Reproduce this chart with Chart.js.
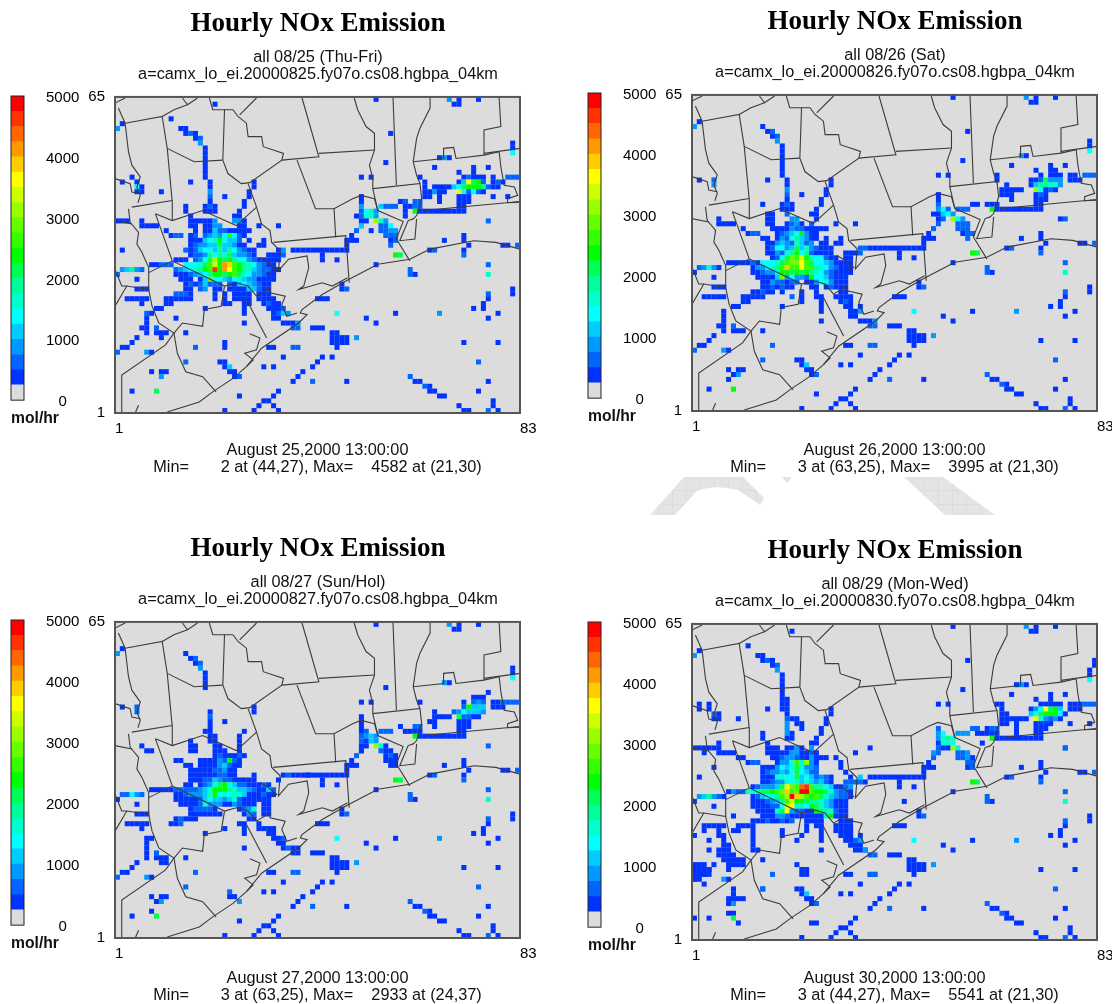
<!DOCTYPE html>
<html><head><meta charset="utf-8">
<script src="https://cdn.jsdelivr.net/npm/chart.js@4"></script>
<style>
html,body{margin:0;padding:0;background:#fff;width:1112px;height:1004px;overflow:hidden}
canvas{position:absolute}
svg{position:absolute;left:0;top:0}
</style></head><body>
<svg width="1112" height="1004"><defs><pattern id="h" width="14" height="14" patternUnits="userSpaceOnUse"><rect width="14" height="14" fill="#e4e4e4"/><path d="M0 0H14M0 0V14" stroke="#d4d4d4" stroke-width="1"/></pattern></defs>
<path fill="url(#h)" d="M650 515L684 477H743L764 498L760 505L738 490Q715 484 697 491L675 515Z"/>
<path fill="url(#h)" d="M782 477H792L787 483Z"/>
<path fill="url(#h)" d="M904 477H943L995 515H945Z"/></svg>
<script>
const colorLevels=['#dcdcdc','#0033ff','#0066ff','#0099ff','#00ccff','#00ffff','#00ffcc','#00ff99','#00ff55','#00ff00','#33ff00','#66ff00','#99ff00','#ccff00','#ffff00','#ffcc00','#ff9900','#ff6600','#ff3300','#ff0000'];
const colorbarStep=250;
const xTickLabels=['1','83'];
const yTickLabels=['1','65'];
const headings=['Hourly NOx Emission','Hourly NOx Emission','Hourly NOx Emission','Hourly NOx Emission'];
const subLines=[['all 08/25 (Thu-Fri)','a=camx_lo_ei.20000825.fy07o.cs08.hgbpa_04km'],['all 08/26 (Sat)','a=camx_lo_ei.20000826.fy07o.cs08.hgbpa_04km'],['all 08/27 (Sun/Hol)','a=camx_lo_ei.20000827.fy07o.cs08.hgbpa_04km'],['all 08/29 (Mon-Wed)','a=camx_lo_ei.20000830.fy07o.cs08.hgbpa_04km']];
const footLines=[['August 25,2000 13:00:00','Min=       2 at (44,27), Max=    4582 at (21,30)'],['August 26,2000 13:00:00','Min=       3 at (63,25), Max=    3995 at (21,30)'],['August 27,2000 13:00:00','Min=       3 at (63,25), Max=    2933 at (24,37)'],['August 30,2000 13:00:00','Min=       3 at (44,27), Max=    5541 at (21,30)']];

// Cells are "row col:levels col:levels", levels in base 36 (index into colorLevels)
const sharedCells=["65 54:1 69:3 71:1 75:1","64 70:11","60 2:1","59 1:3","57 17:12","56 18:3 82:1","55 19:1 82:1","54 19:1 82:5","53 19:1 69:1","52 19:1 56:1",
"40 77:2","38 50:2","39 51:2","37 49:1","36 48:111 68:1 72:1","37 72:1","35 48:1 73:1 80:11 83:2","34 37:111111111111 65:12 72:1","33 43:1 72:2 58:9 59:8","32 43:1 46:1","31 54:1 77:2","30 61:2","29 61:2 62:1 77:6","27 47:1","26 47:12 82:1","25 82:1 77:2","24 77:1 42:111","23 76:1","22 76:1 74:1","21 46:5 58:1 67:3 79:1","20 52:1 77:1","19 54:1","18 41:111","17 45:11","16 45:1111 50:3","15 45:1111 72:1 79:1","14 46:1 32:11 37:22","12 35:1 43:1 45:1","11 42:1 75:2","10 31:1 33:1 41:1","9 39:1","8 38:1 61:2","7 37:1 41:2 48:1 62:11 77:1","6 64:21","5 65:11 75:1 34:1 4:1","4 67:11 33:1 26:1","3 31:11 78:1","2 30:1 33:1 71:1 78:1","1 23:1 29:1 34:1 72:11 77:2 79:1",
"16 5:1","15 4:1","14 2:11 17:2","13 1:2 7:3 8:1","11 15:2"];

const cells0825=["64 21:1","61 12:1","59 14:11","58 15:1 16:2 17:1 57:1","53 67:1 68:3","51 19:1 66:1 74:1 77:1","50 19:1 71:1 74:1","49 4:1 19:1 51:1 53:1 63:1 72:1 73:2 74:1 75:1 76:1 78:1 81:222","48 2:1 5:1 16:1 20:1 29:1 64:1 71:1 72:4 73:e 74:8 75:9 76:2 78:1 79:2 80:1","47 5:5 6:1 20:1 29:1 64:1 66:1111 70:4 71:5 72:8 73:9 74:9 75:9 76:7 77:2 78:1 79:1","46 5:11 10:1 20:3 28:1 64:1 65:1 66:3 67:11 71:e 72:5 73:2 74:5 75:2 76:1","45 20:2 23:1 28:1 51:1 64:11 67:1 71:111 78:1 81:1","44 20:1 27:1 51:1 59:11 60:2 62:22 67:1 71:111","43 15:1 19:1 20:2 21:1 27:1 51:3 55:4 56:22 58:2 60:1 61:1 62:22 71:11","42 15:1 19:111 26:1 51:2 52:5 53:6 54:3 60:1 62:9 63:1 64:11111111 72:1","41 16:1 26:1 25:1 50:1 51:2 52:6 53:6 54:3 60:1","40 1:111 6:1 16:111 19:11 21:3 25:33 27:1 51:1 52:1 54:c 55:6 56:3","39 6:1111 16:11 19:11 21:33 26:11 30:1 34:1 51:4 55:2 56:2 57:5","38 11:1 17:1 19:11 21:4 22:2 23:2 24:1 25:11 27:11 53:1 55:2 56:2 57:3 58:3","37 12:122 16:12 19:2 20:3 21:4 22:3 23:5 24:a 25:5 26:2 27:1 56:2 57:2 58:2","36 16:111 19:4 20:5 21:6 22:9 23:5 24:4 25:4 26:2 28:1 31:1 57:1 58:2","35 16:1 17:2 18:3 19:3 20:4 21:4 22:8 23:4 24:4 25:3 26:1 27:1 30:11 57:2","34 2:1 15:2 16:1 17:2 18:4 19:5 20:5 21:4 22:7 23:4 24:7 25:5 26:3 27:2 28:11 34:1 35:3","33 16:1 17:2 18:2 19:3 20:7 21:5 22:7 23:6 24:8 25:4 26:3 27:3 28:2 29:1 32:1112","32 13:111 17:2 18:3 19:5 20:8 21:c 22:9 23:8 24:9 25:7 26:5 27:5 28:3 29:2 30:1 31:1 32:111","31 8:11222 15:5 16:5 17:5 18:6 19:8 20:a 21:d 22:9 23:g 24:f 25:a 26:9 27:7 28:6 29:5 30:3 31:2 32:11","30 2:3 3:4 4:7 5:3 6:2 13:2 14:3 15:4 16:5 17:6 18:7 19:9 20:a 21:i 22:9 23:g 24:e 25:a 26:9 27:7 28:6 29:4 30:3 31:2 32:2 33:1 34:1","29 1:2 13:111 16:2 17:3 18:4 19:5 20:7 21:9 22:9 23:8 24:9 25:a 26:8 27:6 28:5 29:3 30:3 31:2 32:11","28 5:1 14:111 18:1 19:4 20:b 21:5 22:5 23:4 24:3 25:5 26:6 27:4 28:3 29:3 30:1 31:1 32:11","27 15:1 16:2 17:1 18:2 19:4 20:2 21:2 22:2 24:2 25:1 26:4 27:5 28:4 29:3 30:2 31:1 32:1","26 5:111 15:1 16:1 18:2 19:3 21:1 22:1 24:1 25:1 26:1 27:1 28:4 29:4 30:2 31:1 32:1","25 13:2 14:2 15:2 16:1 21:1 23:1 25:1111 30:111","24 3:11111 11:111111 21:1 23:1 25:1111 30:1 31:1 32:1 33:1","23 6:1 11:11 23:11 27:11 31:1 32:2 33:1 34:1","22 9:11 19:1 27:1 32:111 34:1 35:2","21 7:2 8:1 27:1 33:1 34:2 35:4 36:3","20 7:1 13:1 33:11","19 7:1 27:1 35:111 38:3","18 6:11 9:2 37:22","17 7:1 9:111 15:1","16 10:1","15 23:1","14 23:1","11 22:11","10 23:1 24:4","9 8:1 10:11 24:11","8 10:3 25:1 26:2","5 9:8"];
const cells0826=["59 15:1","58 16:12 57:1","53 68:3","51 19:1 66:1 74:1 77:1","50 19:1 71:1 74:11","49 19:1 51:1 53:1 63:1 72:1 74:111 78:11 81:222","48 2:1 5:2 16:1 20:1 29:1 63:1 70:11 72:2 73:8 74:3 75:3 76:3 78:111","47 5:3 20:1 29:1 65:1 70:1 71:4 72:7 73:7 74:6 75:6 76:3","46 20:3 28:1 64:11111 71:c 72:5 73:1 74:2 75:1","45 20:2 23:1 28:1 51:1 64:111 71:1 72:2 73:1","44 20:1 27:1 51:1 66:1 71:111","43 15:1 19:1 20:2 21:1 27:1 51:2 58:11 61:111 71:11","42 19:111 26:1 51:3 52:5 53:2 55:222 62:9 63:1 64:11111111 72:1","41 16:11 20:2 25:11 50:1 51:1 52:4 53:5 54:3","40 6:1 16:11 21:3 22:3 26:1 51:1 52:2 54:c 55:5 56:3 76:1","39 6:1111 16:11 20:1 21:2 22:3 23:1 25:2 30:1 34:1 55:2 56:2 57:2","38 11:1 17:1111 21:3 22:2 23:2 24:1 25:1 26:111 55:2 56:2 57:2","37 12:122 18:1 19:2 20:3 21:4 22:5 23:9 24:3 25:1 26:1 56:1 57:2 58:2","36 15:11 18:1 19:3 20:2 21:5 22:7 23:4 24:3 25:1 26:1 28:1 31:1 57:2","35 16:1 17:1 18:3 19:4 20:3 21:2 22:6 23:4 24:2 25:3 27:11 30:11","34 16:1 17:2 18:5 19:5 20:3 21:4 22:8 23:4 24:6 25:3 26:2 27:11 29:1 35:2 36:2","33 16:1 17:1 18:3 19:2 20:6 21:7 22:9 23:5 24:7 25:2 26:111 29:1 32:1112","32 17:1 18:2 19:5 20:8 21:b 22:a 23:d 24:9 25:6 26:5 27:5 28:2 29:1 30:1 32:11","31 8:11111 13:2 14:1 15:5 16:5 17:5 18:6 19:8 20:a 21:b 22:b 23:e 24:a 25:8 26:5 27:5 28:4 29:3 30:1 31:1 32:11","30 2:2 3:3 4:6 5:3 6:1 13:1 14:3 15:3 16:5 17:6 18:7 19:a 20:f 21:a 22:a 23:e 24:a 25:a 26:7 27:6 28:5 29:3 30:2 31:1 32:11","29 1:1 13:11 15:2 16:3 17:3 18:6 19:9 20:9 21:8 22:9 23:8 24:9 25:7 26:6 27:5 28:3 29:2 30:1 31:1 32:11","28 5:1 14:1111 18:4 19:b 20:3 21:5 22:3 23:3 24:2 25:9 26:5 27:5 28:4 29:2 30:1 31:1 32:1","27 15:11 17:3 18:2 19:2 20:1 21:2 22:2 24:1 25:1 26:3 27:5 28:6 29:3 30:1 31:1 32:1","26 5:111 15:11 17:2 18:1 19:2 20:1 21:1 25:1 26:1 28:1 29:2 30:111","25 13:11 15:2 16:11 19:1 23:1 26:1 31:11","24 3:11111 11:11111 21:2 23:1 26:11 30:1 31:1 32:1 33:1","23 11:11 23:1 27:1 31:1 32:2 33:1","22 9:11 19:1 27:1 32:11 35:1","21 7:1 27:1 33:11 35:3","20 7:1 33:11","19 7:1 27:1 35:111 38:3","18 6:11 9:2 37:22","17 7:1 9:111 15:1","11 22:11","10 23:1 24:4","9 8:1 10:11 24:11","8 9:1 10:3 25:1 26:2","7 8:1","5 9:9"];
const cells0827=["59 15:1","58 16:12","53 68:3","51 77:1","50 74:111","49 51:1 53:1 63:1 72:1 74:2 75:3 76:2 78:11 80:22 82:22","48 2:1 5:2 29:1 72:2 73:9 74:4 75:4 76:4 78:111","47 5:2 20:1 29:1 66:1 70:2 71:3 72:5 73:4 74:4 75:4 76:3","46 20:2 51:1 66:1111 71:8 72:2 73:2 74:11","45 20:1 23:1 51:1 65:11 71:111","44 20:1 51:1 59:1 62:22 66:1 71:111","43 19:11 27:1 51:1 52:2 55:222 60:1 61:111 71:11","42 20:11 26:1 51:2 52:3 53:4 54:3 62:9 63:1 64:11111111 72:1","41 16:1 20:11 26:1 51:2 52:1 53:4 54:3","40 6:1 16:11 21:11 26:1 51:1 52:1 54:c 55:6 56:1","39 7:11 16:11 21:111 26:1 51:1 55:2 56:1 57:1","38 21:1 22:2 23:1 24:1 25:1 26:2 27:1 56:1 57:2 58:1","37 13:11 18:111 21:1 22:3 23:2 24:9 25:2 26:1 56:1 57:1 58:1","36 15:11 18:1111 22:3 23:4 24:2 25:1 26:1 57:1 58:1","35 16:11 18:111 21:2 22:2 23:3 24:1 25:1","34 16:111 19:11 21:1 22:2 23:2 24:1 25:1 29:1 35:1 36:2 40:1","33 16:111 19:2 20:2 21:4 22:3 23:2 24:2 25:1 26:1 27:11 29:1 34:1","32 15:11 18:1 19:2 20:3 21:6 22:8 23:9 24:6 25:4 26:2 27:2 28:1 29:1 30:1 31:2 32:1","31 8:11111 13:2 14:2 15:2 16:2 17:2 18:3 19:4 20:6 21:9 22:9 23:9 24:7 25:6 26:4 27:4 28:3 29:2 30:1 31:1 32:4 33:2","30 2:2 3:2 4:5 5:3 6:2 13:11 15:2 16:3 17:3 18:3 19:4 20:6 21:9 22:5 23:6 24:5 25:6 26:6 27:4 28:1 29:1 30:1 31:2 32:1 33:1","29 1:1 13:11111 18:2 19:4 20:5 21:4 22:4 23:3 24:4 25:6 26:2 27:1 28:111 31:11","28 5:1 14:1111 18:2 19:6 20:3 21:3 22:3 23:1 24:1 25:3 26:2 27:1 28:11 31:11","27 16:1 17:2 18:2 19:2 20:2 21:1 26:1 27:2 28:3 29:6 31:11","26 5:111 16:1111 20:1 21:1 22:1 27:1 28:3 29:2 31:11","25 13:1 14:2 15:111 28:11","24 3:11111 12:1 13:1 14:2 26:11 30:1","23 6:1 23:1 27:1 30:1111","22 19:1 27:1 32:11","21 7:11 33:1 34:1 35:2","20 7:1 34:11","19 7:1 27:1 35:1 36:2 37:11","18 7:1 9:2 37:11","17 7:1 9:111 15:1","16 10:11","10 24:2","9 8:1 10:1 11:1 24:11","8 9:1 10:3 26:3","6 8:1","5 9:8"];
const cells0830=["64 21:1","61 12:1","59 14:11","58 15:1 16:2 17:1 57:1 83:1","57 83:1","53 67:1 68:3","51 19:1 66:1 74:1 77:1","50 19:11 71:1 74:1","49 2:1 4:1 19:11 51:1 53:1 63:11 72:11111 78:111 81:222","48 2:1 4:1 16:1 19:11 29:1 64:1 70:1 71:3 72:5 73:e 74:8 75:9 76:4 78:111","47 5:2 6:1 20:1 29:1 64:1 65:1 70:4 71:5 72:8 73:9 74:9 75:9 76:5 77:1","46 5:11 10:1 20:2 21:11 28:1 64:111111 71:e 72:6 73:3 74:2 75:3 76:1","45 20:3 22:11 28:1 64:11 67:1 71:1111 78:1 82:1","44 20:3 23:1 27:1 51:2 58:22 61:1 62:22 67:1 71:111","43 15:1 20:3 21:1 27:1 51:3 52:5 55:3 56:33 59:11 61:111 67:1 71:11","42 15:1 20:11 26:1 51:3 52:6 53:7 54:6 62:9 63:1 64:11111111 72:1","41 6:1 16:1 25:11 51:1 52:6 53:6 54:5 60:1","40 1:11111 6:1 16:111 20:11 22:3 23:1 25:3 37:1 51:2 52:11 54:c 55:6 77:2","39 3:1 6:1111 16:1111 20:1 21:3 22:3 23:1 24:1 25:2 26:1 34:1 50:3 55:2 56:2 57:3","38 10:11 17:1 18:1 19:2 20:3 21:3 22:2 23:1 24:1 25:3 26:111 30:1 55:2 56:2 57:3 58:1","37 12:122 18:1 19:3 20:3 21:5 22:a 23:6 24:c 25:3 26:1 31:1 57:2 58:2","36 5:1 15:11 17:1 18:3 19:5 20:4 21:6 22:8 23:6 24:3 25:3 26:2 31:1 57:1 58:2","35 15:1 16:2 17:3 18:3 19:4 20:3 21:5 22:8 23:5 24:4 25:2 26:2 32:1","34 2:1 15:111 18:6 19:6 20:5 21:5 22:8 23:4 24:5 25:4 26:2 27:3 28:2 29:1 33:1 35:4","33 15:11 17:2 18:3 19:3 20:6 21:5 22:6 23:4 24:6 25:4 26:3 27:4 28:2 29:1 32:2 33:2 34:2 35:2 36:1","32 13:1 14:2 15:3 16:3 17:3 18:4 19:8 20:e 21:b 22:a 23:h 24:i 25:a 26:7 27:7 28:5 29:4 30:1 31:1 32:2 33:3","31 8:1 9:3 10:2 11:2 12:6 13:6 14:7 15:8 16:8 17:9 18:a 19:b 20:f 21:a 22:b 23:j 24:j 25:a 26:9 27:9 28:8 29:6 30:3 31:2 32:2 33:1","30 2:3 3:4 4:7 5:3 6:2 7:1 13:1 14:2 15:4 16:5 17:6 18:7 19:a 20:c 21:j 22:f 23:c 24:a 25:9 26:a 27:8 28:6 29:4 30:3 31:2 32:2 33:1","29 1:1 13:111 16:2 17:3 18:4 19:7 20:a 21:d 22:9 23:9 24:8 25:7 26:7 27:6 28:4 29:3 30:111 44:1","28 5:1 13:1111 17:2 18:2 19:5 20:d 21:e 22:6 23:6 24:5 25:9 26:8 27:6 28:4 29:3 30:1 31:11","27 14:111 17:1 18:6 19:8 20:e 21:3 22:2 23:2 24:1 25:1 26:9 27:8 28:7 29:6 30:2 31:11","26 9:1 15:111 18:3 19:3 20:2 21:1 22:1 23:11 25:11 27:1 28:6 29:9 30:1 31:11","25 13:111 16:2 17:1 18:1 19:2 20:1 21:2 24:1111 31:111","24 3:11111 10:111 13:1 24:1 26:11 30:1111","23 3:1 6:1 9:11 13:1 19:1 24:1 27:1 30:1111 33:1","22 1:1 6:11 13:1 19:1 23:1 27:1 31:111 33:1 35:1","21 4:1 7:1 13:1 22:1 27:1 32:11 34:2 35:3","20 7:11 13:1 33:11 35:1","19 4:1 6:111 13:1 14:1 27:1 34:1 35:11 36:3","18 6:1111 37:22","17 7:11 9:111 15:1","16 1:111 8:1111 22:1","15 1:1111 8:1 23:11","14 1:1111 23:11 37:22","13 1:11","12 3:1","11 9:1 15:2 22:11","10 9:1 23:1 24:4","9 8:1 9:1 10:11 24:11","8 8:11 9:3 25:1 26:2","6 8:11","4 10:1 25:1","5 1:1 9:8"];
const panelCells=[cells0825,cells0826,cells0827,cells0830];

// County lines and coast, in map units (1 cell = 14.48 units, origin at the lower left of the domain)
const mapLines=[
[[10,923],[40,938]],
[[20,908],[40,863],[50,778],[60,738],[85,703],[75,673],[85,648],[78,626]],
[[40,863],[150,883],[165,788],[180,628],[180,573]],
[[150,883],[185,903],[225,918],[210,938]],[[225,918],[255,938]],
[[165,788],[245,748],[330,753]],
[[330,753],[335,903],[360,903],[375,883],[400,863],[405,823],[445,823],[450,793],[510,773],[505,753],[410,686],[385,683],[345,713],[330,753]],
[[335,903],[300,903],[290,938]],[[380,888],[430,938]],
[[505,753],[615,763],[565,938]],
[[615,773],[780,783]],
[[720,938],[730,903],[755,853],[780,833],[780,783],[765,738],[775,698],[775,668]],
[[550,753],[605,608],[660,608],[715,638],[740,648],[780,638],[790,603],[865,570],[845,518],[885,453]],
[[775,668],[915,683],[905,708],[895,748],[905,818],[915,848],[945,908],[945,938]],
[[835,938],[845,678]],
[[895,748],[985,758],[985,788],[1015,791],[1022,758],[1105,768],[1150,778],[1155,733],[1165,678],[1195,673],[1205,648],[1175,638],[1175,626],[1212,628]],
[[1105,768],[1105,843],[1155,853],[1150,938]],[[1105,773],[1212,788]],
[[925,603],[1212,630]],
[[775,668],[790,603]],
[[915,683],[920,638],[905,588],[895,578],[880,573],[855,513],[900,518],[905,578]],
[[660,608],[665,523]],
[[480,508],[695,528],[705,388]],
[[130,593],[180,453],[335,378],[370,388],[405,378],[430,348],[470,373],[470,358],[515,348],[505,323],[520,288],[550,298]],
[[130,593],[180,573],[270,603],[370,558],[430,613],[405,683]],
[[430,613],[445,563],[470,543],[475,508],[500,483],[495,423],[525,458],[580,468],[585,433],[570,378],[555,368],[625,388],[655,378],[700,403]],
[[165,3],[260,33],[300,63],[360,103],[400,138],[445,193],[555,268],[580,293],[560,298],[565,308],[625,353],[695,393],[790,443],[885,458],[945,488],[1075,513],[1140,508],[1212,488]],
[[10,318],[45,378],[110,368],[120,318],[140,268],[185,238],[160,203],[30,113],[30,0]],
[[60,613],[180,633]],[[50,608],[55,568],[80,538],[75,503],[90,478],[110,433],[110,368]],[[10,573],[60,563]],
[[110,418],[180,453]],[[10,428],[30,378],[45,378]],
[[185,238],[210,268],[270,258],[275,308],[325,318],[335,378]],
[[185,238],[195,178],[220,123],[270,108],[310,63]],
[[400,338],[460,223]],
[[410,236],[440,223],[430,188],[395,178],[420,158],[400,138]],
[[440,463],[465,448],[490,428],[470,418]],
[[70,0],[80,23]],[[10,698],[55,683],[60,658],[85,653]]
];
const mapUnitsPerCell=14.48;

const plotWidth=405, plotHeight=316, headSpace=90, canvasWidth=464;
const layouts=[
 {plotLeft:115,plotTop:97,barLeft:10,barTop:96,barH:304,footEnd:478},
 {plotLeft:692,plotTop:95,barLeft:587,barTop:93,barH:305,footEnd:478},
 {plotLeft:115,plotTop:622,barLeft:10,barTop:620,barH:305,footEnd:1006},
 {plotLeft:692,plotTop:624,barLeft:587,barTop:622,barH:305,footEnd:1006}
];
const panelFont='"Liberation Sans"';

function expand(rows){
  const pts=[];
  rows.forEach(r=>{
    const parts=r.split(' '); const j=+parts[0];
    parts.slice(1).forEach(p=>{
      const [c,ls]=p.split(':');
      [...ls].forEach((ch,k)=>pts.push({x:+c+k+0.5,y:j+0.5,level:parseInt(ch,36)}));
    });
  });
  return pts;
}
const frame={id:'frame',
 beforeDatasetsDraw(ch){const a=ch.chartArea,c=ch.ctx;c.save();c.fillStyle=ch.options.plugins.frame.fill||'transparent';c.fillRect(a.left,a.top,a.width,a.height);c.restore();},
 afterDraw(ch){const a=ch.chartArea,c=ch.ctx;c.save();c.strokeStyle=ch.options.plugins.frame.line;c.lineWidth=ch.options.plugins.frame.width;c.strokeRect(a.left,a.top,a.width,a.height);c.restore();}};
Chart.register(frame);
Chart.defaults.animation=false;

function mkCanvas(l,t,w,h){const c=document.createElement('canvas');c.style.left=l+'px';c.style.top=t+'px';c.style.width=w+'px';c.style.height=h+'px';c.width=w;c.height=h;document.body.appendChild(c);return c;}
const noPad=s=>{s.paddingTop=0;s.paddingBottom=0;s.paddingLeft=0;s.paddingRight=0;};

layouts.forEach((L,idx)=>{
  // colour bar
  const cbTop=L.barTop-10;
  const cb=mkCanvas(L.barLeft-10,cbTop,100,L.barH+10+34);
  new Chart(cb,{type:'bar',data:{labels:[''],datasets:colorLevels.map(col=>({data:[colorbarStep],backgroundColor:col,barPercentage:1,categoryPercentage:1,stack:'s'}))},
   options:{responsive:false,events:[],layout:{padding:{left:11,top:10,right:100-11-13-60,bottom:0}},
    plugins:{legend:{display:false},tooltip:{enabled:false},frame:{line:'#222',width:1},
     title:{display:true,position:'bottom',align:'start',text:'mol/hr',color:'#111',font:{family:panelFont,size:15.7,weight:'bold',lineHeight:1.2},padding:{top:9,bottom:6}}},
    scales:{x:{stacked:true,grid:{display:false},border:{display:false},ticks:{display:false},afterFit:s=>{s.height=0;noPad(s);}},
     y:{stacked:true,position:'right',min:0,max:5000,grid:{display:false,drawTicks:false},border:{display:false},ticks:{stepSize:1000,callback:v=>String(v),color:'#000',padding:22,crossAlign:'center',labelOffset:2,font:{family:panelFont,size:15}},afterFit:s=>{s.width=60;noPad(s);}}}}});
  // map panel
  const cx=L.plotLeft+plotWidth/2, left=Math.round(cx-canvasWidth/2), top=L.plotTop-headSpace;
  const height=L.footEnd-top;
  const footH=L.footEnd-(L.plotTop+plotHeight);
  const cv=mkCanvas(left,top,canvasWidth,height);
  const cells=expand(sharedCells).concat(expand(panelCells[idx]));
  const lineSets=mapLines.map(line=>({type:'line',order:0,data:line.map(([a,b])=>({x:1+(a-10)/mapUnitsPerCell,y:1+b/mapUnitsPerCell})),borderColor:'#3c3c3c',borderWidth:1.1,pointRadius:0,tension:0,fill:false}));
  new Chart(cv,{type:'scatter',data:{datasets:[{order:1,data:cells,pointStyle:'rect',pointRadius:3.55,pointBorderWidth:0,pointHoverRadius:3.55,backgroundColor:c=>c.raw?colorLevels[c.raw.level]:'#000'},...lineSets]},
   options:{responsive:false,events:[],layout:{padding:0},
    plugins:{legend:{display:false},tooltip:{enabled:false},frame:{fill:'#dcdcdc',line:'#555',width:2},
     title:{display:true,text:headings[idx],color:'#000',font:{family:'"Liberation Serif"',size:27,weight:'bold',lineHeight:1.26},padding:{top:0,bottom:8}},
     subtitle:{display:true,text:subLines[idx],color:'#111',font:{family:panelFont,size:16.3,lineHeight:1.04},padding:{top:0,bottom:14}}},
    scales:{
     x:{type:'linear',min:1,max:84,afterBuildTicks:a=>{a.ticks=[{value:1},{value:84}];},grid:{display:false,drawTicks:false},border:{display:false},
        ticks:{callback:v=>v===1?xTickLabels[0]:xTickLabels[1],align:'start',maxRotation:0,autoSkip:false,color:'#000',padding:7,font:{family:panelFont,size:15}},
        title:{display:true,text:footLines[idx],color:'#111',font:{family:panelFont,size:16.3,lineHeight:1.04},padding:{top:0,bottom:2}},afterFit:s=>{s.height=footH;noPad(s);}},
     y:{type:'linear',min:1,max:66,afterBuildTicks:a=>{a.ticks=[{value:1},{value:66}];},grid:{display:false,drawTicks:false},border:{display:false},
        ticks:{callback:v=>v===1?yTickLabels[0]:yTickLabels[1],autoSkip:false,color:'#000',padding:10,font:{family:panelFont,size:15}},afterFit:s=>{s.width=L.plotLeft-left;noPad(s);}},
     yr:{type:'linear',axis:'y',position:'right',display:true,grid:{display:false,drawTicks:false},border:{display:false},ticks:{display:false},afterFit:s=>{s.width=canvasWidth-(L.plotLeft-left)-plotWidth;noPad(s);}}
    }}});
});
</script></body></html>
